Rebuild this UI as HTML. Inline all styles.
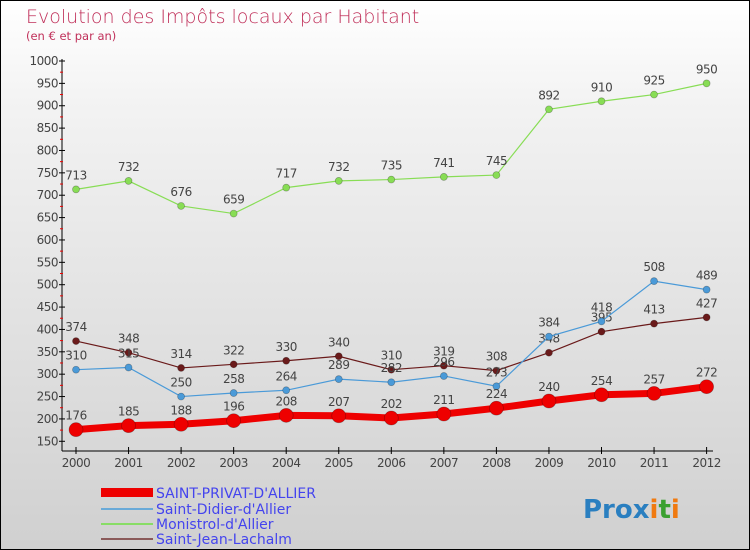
<!DOCTYPE html>
<html><head><meta charset="utf-8"><style>
body{margin:0}
#c{width:748px;height:548px;border:1px solid #000;background:linear-gradient(#ffffff,#f2f2f2 20%,#d0d0d0);position:relative;font-family:"DejaVu Sans","Liberation Sans",sans-serif;overflow:hidden}
</style></head><body>
<div id="c">
<svg id="s" width="748" height="548" xmlns="http://www.w3.org/2000/svg" style="position:absolute;left:0;top:0">
<text x="25" y="22" font-size="19" fill="#c0305a" font-weight="200">Evolution des Impôts locaux par Habitant</text>
<text x="25" y="39" font-size="11.5" fill="#c0305a">(en € et par an)</text>
<g id="ax"></g><g id="ser"></g>
<g font-size="14" fill="#4444ee">
<rect x="100" y="487" width="52" height="9" fill="#ee0000"/>
<text x="155" y="497">SAINT-PRIVAT-D'ALLIER</text>
<line x1="100" x2="152" y1="508" y2="508" stroke="#6aaad8" stroke-width="2"/>
<text x="155" y="513">Saint-Didier-d'Allier</text>
<line x1="100" x2="152" y1="523" y2="523" stroke="#88dd66" stroke-width="2"/>
<text x="155" y="528">Monistrol-d'Allier</text>
<line x1="100" x2="152" y1="538" y2="538" stroke="#8a5a5a" stroke-width="2"/>
<text x="155" y="543">Saint-Jean-Lachalm</text>
</g>
<text x="582" y="517" font-size="26" font-weight="bold"><tspan fill="#2a7fc0">Pro</tspan><tspan fill="#2a7fc0">x</tspan><tspan fill="#f07a10">i</tspan><tspan fill="#3aa030">t</tspan><tspan fill="#f07a10">i</tspan></text>
</svg></div>
<script>
const years=[2000,2001,2002,2003,2004,2005,2006,2007,2008,2009,2010,2011,2012];
const privat=[176,185,188,196,208,207,202,211,224,240,254,257,272];
const didier=[310,315,250,258,264,289,282,296,273,384,418,508,489];
const monistrol=[713,732,676,659,717,732,735,741,745,892,910,925,950];
const jean=[374,348,314,322,330,340,310,319,308,348,395,413,427];
const yTicks=[150,200,250,300,350,400,450,500,550,600,650,700,750,800,850,900,950,1000];
const NS="http://www.w3.org/2000/svg";
const X=i=>75+i*52.55, Y=v=>60+(1000-v)*0.4474;
function mk(p,t,a){const e=document.createElementNS(NS,t);for(const k in a)e.setAttribute(k,a[k]);p.appendChild(e);return e;}
const ax=document.getElementById('ax'),ser=document.getElementById('ser');
const ya=mk(ax,'line',{x1:61,x2:61,y1:58,y2:450,stroke:'#000'});


const xa=mk(ax,'line',{x1:61,x2:712,y1:450,y2:450,stroke:'#000'});


yTicks.forEach(v=>{const y=Y(v);
mk(ax,'line',{x1:58,x2:64,y1:y,y2:y,stroke:'#000'});
if(v<1000)mk(ax,'line',{x1:59,x2:62,y1:y-11.2,y2:y-11.2,stroke:'#e00'});
const t=mk(ax,'text',{x:57,y:y+4,'font-size':12,'text-anchor':'end',fill:'#444','letter-spacing':'-0.5'});t.textContent=v;

});
years.forEach((yr,i)=>{mk(ax,'line',{x1:X(i),x2:X(i),y1:446,y2:453,stroke:'#000'});
const t=mk(ax,'text',{x:X(i),y:466,'font-size':12,'text-anchor':'middle',fill:'#444','letter-spacing':'-0.5'});t.textContent=yr;

});
function series(d,name,col,w,r){const g=mk(ser,'g',{});


mk(g,'polyline',{points:d.map((v,i)=>X(i)+','+Y(v)).join(' '),fill:'none',stroke:col,'stroke-width':w});
d.forEach((v,i)=>{const c=mk(g,'circle',{cx:X(i),cy:Y(v),r:r,fill:col,stroke:'rgba(0,0,0,0.3)','stroke-width':0.7});


const t=mk(g,'text',{x:X(i),y:Y(v)-10,'font-size':12,'text-anchor':'middle',fill:'#444','letter-spacing':'-0.5'});t.textContent=v;

});}
series(jean,'saint-jean','#6a1a1a',1.2,3.5);
series(monistrol,'monistrol','#88dd55',1.2,3.5);
series(didier,'saint-didier','#4a9ad8',1.2,3.5);
series(privat,'saint-privat','#ee0000',7,7);
</script>
</body></html>
